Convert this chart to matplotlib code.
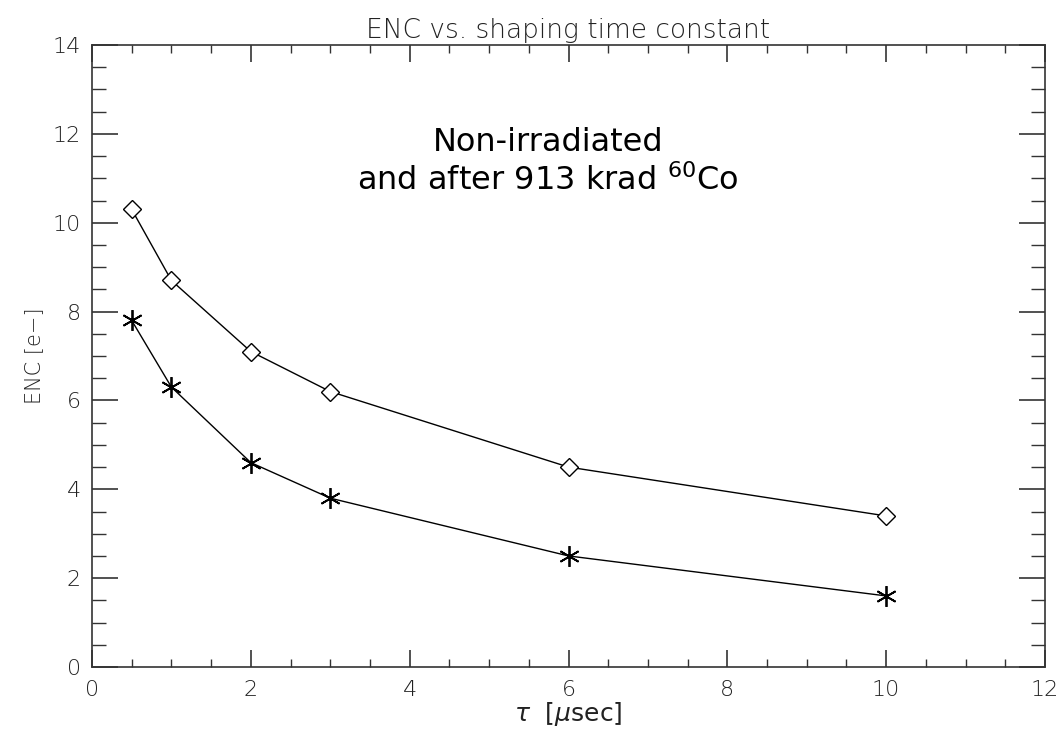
import matplotlib
matplotlib.use("Agg")
import matplotlib.pyplot as plt
from matplotlib.ticker import MultipleLocator

# shaping time constants (usec)
tau = [0.5, 1, 2, 3, 6, 10]
# ENC values
enc_diamond = [10.3, 8.7, 7.1, 6.2, 4.5, 3.4]
enc_star = [7.8, 6.3, 4.6, 3.8, 2.5, 1.6]

TITLE = "ENC vs. shaping time constant"
NOTE = "Non-irradiated\nand after 913 krad $^{60}$Co"

plt.rcParams['font.family'] = ['DejaVu Sans']
plt.rcParams['mathtext.fontset'] = 'dejavusans'

fig = plt.figure(figsize=(10.59, 7.39), dpi=100)
ax = fig.add_axes([92/1059, 1 - 667/739, (1045-92)/1059, (667-45)/739])

ax.plot(tau, enc_diamond, color='black', lw=1, marker='D', markersize=9,
        markerfacecolor='white', markeredgecolor='black', markeredgewidth=1)
ax.plot(tau, enc_star, color='black', lw=1, marker=(6, 2, 0), markersize=15,
        markeredgewidth=1.3, markeredgecolor='black')

ax.set_xlim(0, 12)
ax.set_ylim(0, 14)
ax.xaxis.set_major_locator(MultipleLocator(2))
ax.xaxis.set_minor_locator(MultipleLocator(0.5))
ax.yaxis.set_major_locator(MultipleLocator(2))
ax.yaxis.set_minor_locator(MultipleLocator(0.5))
ax.tick_params(which='both', direction='in', top=True, right=True,
               labelsize=16, color='#333333')
ax.tick_params(axis='x', which='major', length=12, width=1.2, pad=9)
ax.tick_params(axis='x', which='minor', length=6, width=1)
ax.tick_params(axis='y', which='major', length=19, width=1.2, pad=8)
ax.tick_params(axis='y', which='minor', length=10, width=1)
for lab in ax.get_xticklabels() + ax.get_yticklabels():
    lab.set_fontweight('light')
    lab.set_color('#222222')
for s in ax.spines.values():
    s.set_linewidth(1.2)
    s.set_color('#333333')

ax.set_title(TITLE, fontsize=19, fontweight='light', pad=5, color='#222222')
ax.set_xlabel(r"$\tau$  [$\mu$sec]", fontsize=18, color='#222222', labelpad=0)
ax.set_ylabel("ENC [e\u2212]", fontsize=15, fontweight='light', color='#222222', labelpad=6)

ax.text(5.74, 11.37, NOTE, ha='center', va='center', fontsize=23,
        linespacing=1.22, family=['DejaVu Sans'])

fig.savefig("out.png", dpi=100)
